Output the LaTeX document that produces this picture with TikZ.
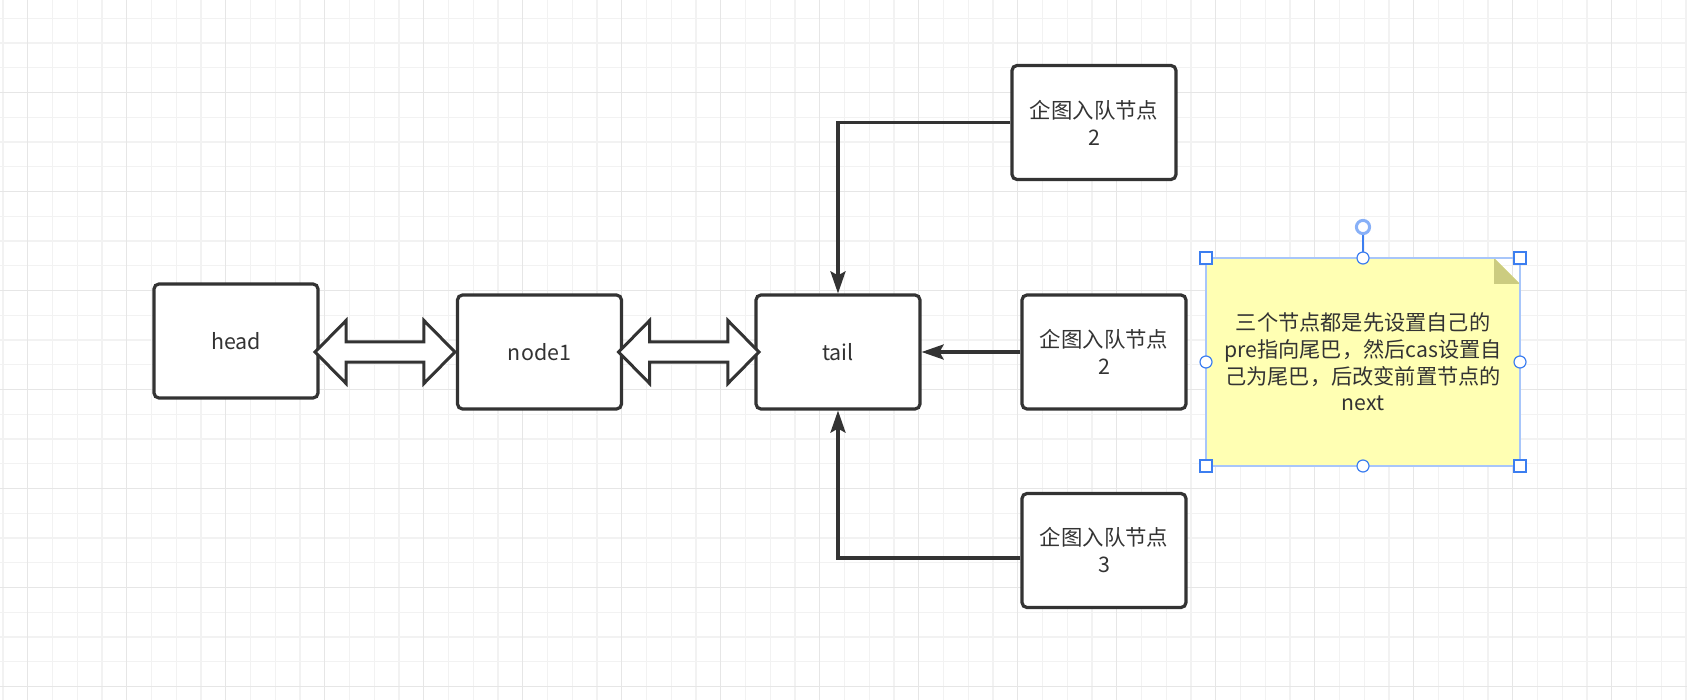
\documentclass[tikz,border=0pt]{standalone}
\usepackage{fontspec}
\setmainfont{Noto Sans CJK SC}
\usepackage{xcolor}
\definecolor{boxgray}{HTML}{333333}
\definecolor{gridminor}{HTML}{F2F2F2}
\definecolor{gridmajor}{HTML}{E6E6E6}
\definecolor{noteyellow}{HTML}{FFFFB3}
\definecolor{notefold}{HTML}{CCCC80}
\definecolor{selblue}{HTML}{A8C6FA}
\definecolor{handleblue}{HTML}{3C7EF0}
\usepackage{pgf,tikz}
\usetikzlibrary{arrows.meta,calc}
\tikzset{
  qb/.style={draw=boxgray, text=boxgray, fill=white, rounded corners=2.5pt,
             line width=1.6pt, align=center, inner sep=0pt,
             font=\fontsize{10.7pt}{13.5pt}\selectfont,
             minimum width=82pt, minimum height=57pt},
  notebox/.style={minimum width=157pt, minimum height=104pt, outer sep=0pt, inner sep=0pt},
  notetext/.style={text=boxgray, align=center, inner sep=0pt,
             font=\fontsize{10.6pt}{13.35pt}\selectfont},
  ar/.style={-{Stealth[length=11pt,width=7.5pt,inset=2pt]}, draw=boxgray, line width=1.6pt},
  dbl/.style={draw=boxgray, fill=white, line width=1.5pt, line join=miter},
  gmin/.style={draw=gridminor, line width=0.6pt},
  gmaj/.style={draw=gridmajor, line width=0.7pt},
  hsq/.style={draw=handleblue, fill=white, line width=0.6pt},
  hci/.style={draw=handleblue, fill=white, line width=0.6pt},
}

\begin{document}
\begin{tikzpicture}[x=0.5pt, y=-0.5pt]
  \useasboundingbox[fill=white] (0,0) rectangle (1687,700);
  % grid
  \foreach \i in {0,...,68} \draw[gmin] ({2.95+24.75*\i},0) -- ++(0,700);
  \foreach \i in {0,...,27} \draw[gmin] (0,{18.25+24.75*\i}) -- ++(1687,0);
  \foreach \i in {0,...,16} \draw[gmaj] ({27.7+99*\i},0) -- ++(0,700);
  \foreach \i in {0,...,6} \draw[gmaj] (0,{92.5+99*\i}) -- ++(1687,0);

  \node[qb] (head) at (236,341) {head};
  \node[qb] (n1) at (539.5,352) {node1};
  \node[qb] (tail) at (838,352) {tail};
  \node[qb] (ta) at (1094,122.5) {企图入队节点\\2};
  \node[qb] (tb) at (1104,352) {企图入队节点\\2};
  \node[qb] (tc) at (1104,550.5) {企图入队节点\\3};

  % double arrows between the list nodes
  \foreach \a/\b/\s in {head/n1/-1, n1/tail/4.5}{
    \coordinate (l) at ($(\a.east |- \b.west)+(-4.5,0)$);
    \coordinate (r) at ($(\b.west)+(\s,0)$);
    \draw[dbl] (l) -- ++(31,31.5) -- ++(0,-21.5) -- ($(r)+(-31,10)$)
      -- ++(0,21.5) -- (r) -- ++(-31,-31.5) -- ++(0,21.5)
      -- ($(l)+(31,-10)$) -- ++(0,-21.5) -- cycle;
  }

  \draw[ar] (ta.west) -| (tail.north);
  \draw[ar] (tb.west) -- (tail.east);
  \draw[ar] ([yshift=-3.75pt]tc.west) -| (tail.south);

  % note
  \node[notebox] (note) at (1363,362) {};
  \fill[noteyellow] (note.north west) -- ($(note.north east)+(-26,0)$)
    -- ($(note.north east)+(0,26)$) -- (note.south east) -- (note.south west) -- cycle;
  \fill[notefold] ($(note.north east)+(-26,0)$) -- ($(note.north east)+(-26,26)$)
    -- ($(note.north east)+(0,26)$) -- cycle;
  \draw[selblue, line width=0.8pt] (note.north west) rectangle (note.south east);
  \node[notetext] (notet) at (note.center)
    {三个节点都是先设置自己的\\pre指向尾巴，然后cas设置自\\己为尾巴，后改变前置节点的\\next};
  \draw[handleblue, line width=0.8pt] (note.north) -- ++(0,-31);
  \filldraw[fill=white, draw=selblue!70!handleblue, line width=1.5pt] ($(note.north)+(0,-31)$) circle[radius=3.3pt];
  \foreach \c in {north west, north east, south west, south east}
    \filldraw[hsq] ($(note.\c)+(-6,-6)$) rectangle ++(12,12);
  \foreach \c in {north, south, east, west}
    \filldraw[hci] (note.\c) circle[radius=3pt];
\end{tikzpicture}
\end{document}
